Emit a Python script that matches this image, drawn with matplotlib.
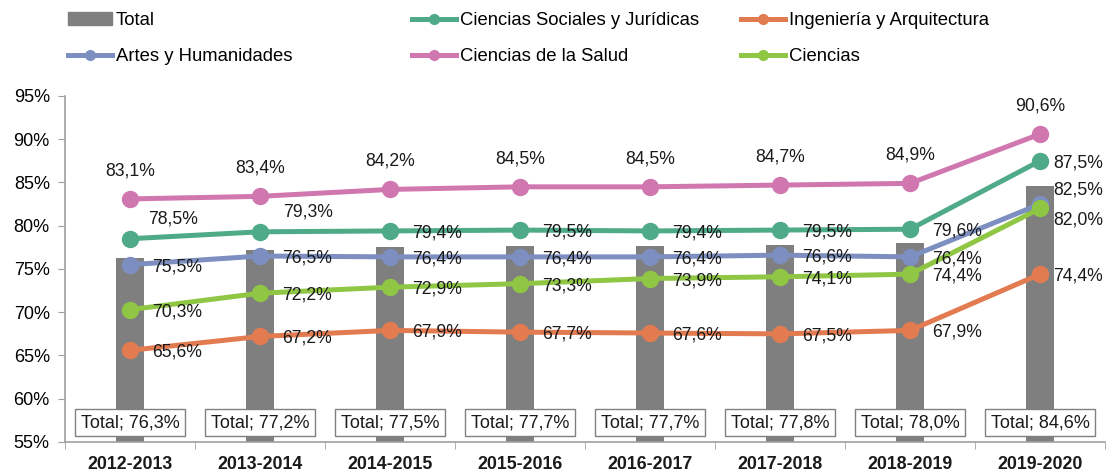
import numpy as np
import matplotlib.pyplot as plt
from matplotlib.patches import Patch
from matplotlib.lines import Line2D

plt.rcParams['font.family'] = ['Liberation Sans', 'DejaVu Sans']

# data
cursos = ['2012-2013', '2013-2014', '2014-2015', '2015-2016',
          '2016-2017', '2017-2018', '2018-2019', '2019-2020']
total = [76.3, 77.2, 77.5, 77.7, 77.7, 77.8, 78.0, 84.6]
sociales = [78.5, 79.3, 79.4, 79.5, 79.4, 79.5, 79.6, 87.5]
ingenieria = [65.6, 67.2, 67.9, 67.7, 67.6, 67.5, 67.9, 74.4]
artes = [75.5, 76.5, 76.4, 76.4, 76.4, 76.6, 76.4, 82.5]
salud = [83.1, 83.4, 84.2, 84.5, 84.5, 84.7, 84.9, 90.6]
ciencias = [70.3, 72.2, 72.9, 73.3, 73.9, 74.1, 74.4, 82.0]

c_total = '#7f7f7f'
c_soc = '#4faa88'
c_ing = '#e37b51'
c_art = '#7d8fc0'
c_sal = '#d177b0'
c_cie = '#8fc644'

fig = plt.figure(figsize=(11.1, 4.75), dpi=100)
ax = fig.add_axes([0.0586, 0.0695, 0.937, 0.7284])

x = np.arange(len(cursos))
ax.bar(x, total, width=0.21, color=c_total, zorder=1)


def fmt(v):
    return f'{v:.1f}%'.replace('.', ',')


def serie(vals, color, dx=22, dy=-2, ha='left', z=3, special=None):
    ax.plot(x, vals, color=color, lw=3.6, marker='o', ms=11.5, zorder=z)
    for i, v in enumerate(vals):
        ox, oy, h = dx, dy, ha
        if i == len(vals) - 1 and ha == 'left':
            ox = 13
        if special and i in special:
            ox, oy, h = special[i]
        ax.annotate(fmt(v), (i, v), xytext=(ox, oy), textcoords='offset pixels',
                    ha=h, va='center', fontsize=12.7, color='#1a1a1a', zorder=6)


serie(ingenieria, c_ing)
serie(sociales, c_soc, special={0: (18, 20, 'left'), 1: (23, 20, 'left')})
serie(artes, c_art, special={7: (13, 14, 'left')})
serie(salud, c_sal, dx=0, dy=28, ha='center')
serie(ciencias, c_cie, special={7: (13, -12, 'left')}, z=4)

for i, v in enumerate(total):
    ax.annotate('Total; ' + fmt(v), (i, 57.25), ha='center', va='center',
                fontsize=13, color='#1a1a1a', zorder=7,
                bbox=dict(boxstyle='square,pad=0.3', fc='white', ec='#808080', lw=1))

ax.set_xlim(-0.5, 7.5)
ax.set_ylim(55, 95)
ax.set_yticks(range(55, 96, 5))
ax.set_yticklabels([f'{t}%' for t in range(55, 96, 5)], fontsize=13)
ax.set_xticks(x)
ax.set_xticklabels(cursos, fontsize=12.8, fontweight='bold', color='#1a1a1a')
ax.tick_params(axis='x', length=0, pad=10)
ax.set_xticks(np.arange(-0.5, 8, 1), minor=True)
ax.tick_params(axis='x', which='minor', length=5, color='#a0a0a0')
ax.tick_params(axis='y', length=5, color='#a0a0a0', pad=6)
for s in ['top', 'right']:
    ax.spines[s].set_visible(False)
for s in ['left', 'bottom']:
    ax.spines[s].set_color('#a0a0a0')
    ax.spines[s].set_linewidth(1.2)


def lh(color):
    return Line2D([], [], color=color, lw=3.6, marker='o', ms=7)


cols = [
    ([Patch(color=c_total), lh(c_art)], ['Total', 'Artes y Humanidades'], 68),
    ([lh(c_soc), lh(c_sal)], ['Ciencias Sociales y Jurídicas', 'Ciencias de la Salud'], 412),
    ([lh(c_ing), lh(c_cie)], ['Ingeniería y Arquitectura', 'Ciencias'], 741),
]
for hs, ls, xl in cols:
    fig.legend(hs, ls, loc='upper left', bbox_to_anchor=(xl / 1110, 1 - 12 / 475), ncol=1,
               frameon=False, fontsize=13.3, handlelength=2.4, handletextpad=0.2,
               labelspacing=1.05, borderaxespad=0, borderpad=0)

fig.savefig('out.png', dpi=100)
